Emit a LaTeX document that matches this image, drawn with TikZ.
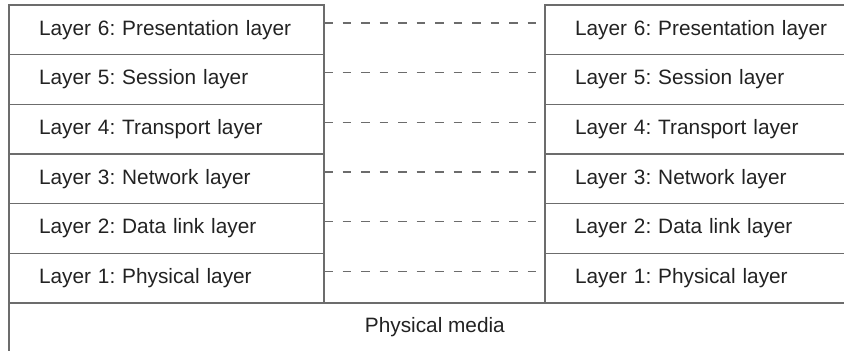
\documentclass[tikz,border=0pt]{standalone}
\usepackage{fontspec}
\setmainfont{Liberation Sans}
\usetikzlibrary{positioning}

\definecolor{linegray}{RGB}{108,108,108}
\definecolor{textgray}{RGB}{34,34,34}

\tikzset{
    layerbox/.style={draw=linegray, line width=0.65pt, minimum width=157.5pt,
        minimum height=24.83pt, inner xsep=0pt, outer sep=0pt, text width=127.5pt,
        align=left, text=textgray, font=\fontsize{10.4}{12}\selectfont\frenchspacing},
    rule/.style={draw=linegray, line width=0.65pt},
    peerline/.style={draw=linegray, line width=0.6pt, dash pattern=on 4.25pt off 5pt}
}

\begin{document}
\begin{tikzpicture}[x=0.5pt, y=0.5pt]
    \useasboundingbox (0,0) rectangle (844,350);
    \clip (0,0) rectangle (844,350);

    % left stack
    \node (L6) [layerbox] at (166.5,320.2) {Layer 6: Presentation layer};
    \node (L5) [layerbox, below=0pt of L6] {Layer 5: Session layer};
    \node (L4) [layerbox, below=0pt of L5] {Layer 4: Transport layer};
    \node (L3) [layerbox, below=0pt of L4] {Layer 3: Network layer};
    \node (L2) [layerbox, below=0pt of L3] {Layer 2: Data link layer};
    \node (L1) [layerbox, below=0pt of L2] {Layer 1: Physical layer};

    % right stack
    \node (R6) [layerbox] at (702.5,320.2) {Layer 6: Presentation layer};
    \node (R5) [layerbox, below=0pt of R6] {Layer 5: Session layer};
    \node (R4) [layerbox, below=0pt of R5] {Layer 4: Transport layer};
    \node (R3) [layerbox, below=0pt of R4] {Layer 3: Network layer};
    \node (R2) [layerbox, below=0pt of R3] {Layer 2: Data link layer};
    \node (R1) [layerbox, below=0pt of R2] {Layer 1: Physical layer};

    % peer to peer
    \foreach \i in {1,...,6}
        \draw[peerline] ([yshift=3.42pt]L\i.east) -- ([yshift=3.42pt]R\i.west);

    % media
    \node (media) [minimum width=425.5pt, minimum height=23.5pt, inner sep=0pt,
        anchor=north west, text=textgray, font=\fontsize{10.4}{12}\selectfont]
        at (L1.south west) {Physical media};
    \draw[rule] (L1.south east) -- (R1.south west);
    \draw[rule] (media.north west) -- ([yshift=-10pt]media.south west);
\end{tikzpicture}
\end{document}
